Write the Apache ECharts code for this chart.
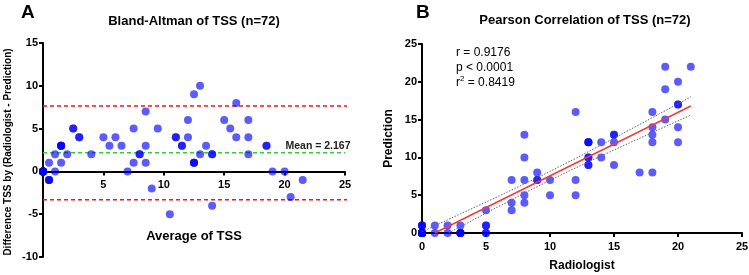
<!DOCTYPE html>
<html>
<head>
<meta charset="utf-8">
<script src="https://cdn.jsdelivr.net/npm/echarts@6/dist/echarts.min.js"></script>
<style>
  html, body { margin: 0; padding: 0; background: #fff; }
  #chart { width: 749px; height: 275px; }
</style>
</head>
<body>
<div id="chart"></div>
<script>
// TSS per case (duplicates = overlapping darker dots)
const radiologist = [0, 0, 1, 1, 2, 2, 3, 3, 5, 5, 5, 7, 7, 8, 8, 7, 8, 10, 9, 9, 10, 12, 8, 12,
  8, 13, 13, 15, 14, 17, 18, 13, 14, 15, 15, 12, 18, 18, 20, 18, 20, 19, 18, 20, 19, 20, 19, 21,
  0, 0, 0, 0, 0, 0, 0, 0, 0, 0, 0, 0, 3, 3, 3, 5, 5, 9, 13, 13, 13, 13, 15, 20];
const prediction = [0, 1, 0, 1, 0, 1, 0, 1, 0, 1, 3, 3, 4, 4, 5, 7, 7, 5, 7, 8, 7, 5, 10, 7,
  13, 9, 10, 9, 10, 8, 8, 12, 12, 12, 13, 16, 12, 13, 12, 14, 14, 15, 16, 17, 19, 20, 22, 22,
  0, 0, 0, 0, 0, 0, 0, 0, 0, 0, 1, 1, 0, 0, 0, 0, 1, 7, 9, 10, 12, 12, 13, 17];

// Bland-Altman reference lines (from the figure)
const meanDiff = 2.167;
const upperLoA = 7.65;
const lowerLoA = -3.32;
const loaX = [0, 25.6];

// regression fit and its 95% band
const fitX = [1, 21];
const fitY = [0, 16.8];
const bandX = [0, 3, 6, 9, 12, 15, 18, 21];
const bandUpper = [0.16, 2.53, 4.88, 7.3, 9.86, 12.54, 15.26, 18.0];
const bandLower = [-1.84, 0.83, 3.52, 6.14, 8.62, 10.98, 13.3, 15.6];

const ticks = [0, 5, 10, 15, 20, 25];
const statLines = ['r = 0.9176', 'p < 0.0001', 'r{sup|2} = 0.8419'];

const font = 'Liberation Sans, Arial, sans-serif';
const dotColor = 'rgba(0, 0, 250, 0.8)';

const baPoints = radiologist.map((r, i) => [(r + prediction[i]) / 2, r - prediction[i]]);
const corrPoints = radiologist.map((r, i) => [r, prediction[i]]);

function axisBase(extra) {
  return Object.assign({
    type: 'value',
    splitLine: { show: false },
    axisLine: { show: true, onZero: false, lineStyle: { color: '#000', width: 2 } },
    axisTick: { show: true, length: 4, lineStyle: { color: '#000', width: 2 } },
    axisLabel: { color: '#000', fontWeight: 'bold', fontSize: 11, fontFamily: font },
    nameTextStyle: { color: '#000', fontWeight: 'bold', fontFamily: font },
  }, extra);
}

const chart = echarts.init(document.getElementById('chart'));
chart.setOption({
  animation: false,
  backgroundColor: '#fff',
  grid: [
    { left: 43, top: 43, width: 302, height: 214, outerBoundsMode: 'none', containLabel: false },
    { left: 422, top: 44, width: 320, height: 189, outerBoundsMode: 'none', containLabel: false }
  ],
  xAxis: [
    // x axis of panel A sits on the y = 0 line (10 units of 21.4px above the grid bottom)
    axisBase({
      gridIndex: 0, min: ticks[0], max: ticks[5], interval: 5, offset: -85.6,
      axisLabel: { color: '#000', fontWeight: 'bold', fontSize: 11, fontFamily: font, margin: 8,
        formatter: v => (v === 0 ? '' : v) }
    }),
    axisBase({
      gridIndex: 1, min: ticks[0], max: ticks[5], interval: 5,
      axisLabel: { color: '#000', fontWeight: 'bold', fontSize: 11, fontFamily: font, margin: 8 },
      name: 'Radiologist', nameLocation: 'middle', nameGap: 27,
      nameTextStyle: { color: '#000', fontWeight: 'bold', fontSize: 12, fontFamily: font }
    })
  ],
  yAxis: [
    axisBase({
      gridIndex: 0, min: -10, max: 15, interval: 5,
      axisLabel: { color: '#000', fontWeight: 'bold', fontSize: 11, fontFamily: font, margin: 5 }
    }),
    axisBase({
      gridIndex: 1, min: ticks[0], max: ticks[5], interval: 5,
      axisLabel: { color: '#000', fontWeight: 'bold', fontSize: 11, fontFamily: font, margin: 5 },
      name: 'Prediction', nameLocation: 'middle', nameGap: 27,
      nameTextStyle: { color: '#000', fontWeight: 'bold', fontSize: 12, fontFamily: font }
    })
  ],
  series: [
    {
      type: 'line', xAxisIndex: 0, yAxisIndex: 0, clip: false, symbol: 'none', z: 1,
      data: loaX.map(x => [x, upperLoA]),
      lineStyle: { color: '#f01818', width: 1.5, type: [4, 3] }
    },
    {
      type: 'line', xAxisIndex: 0, yAxisIndex: 0, clip: false, symbol: 'none', z: 1,
      data: loaX.map(x => [x, lowerLoA]),
      lineStyle: { color: '#f01818', width: 1.5, type: [4, 3] }
    },
    {
      type: 'line', xAxisIndex: 0, yAxisIndex: 0, clip: false, symbol: 'none', z: 1,
      data: [[loaX[0], meanDiff], [25, meanDiff]],
      lineStyle: { color: '#2fd02f', width: 1.5, type: [4, 3] }
    },
    {
      type: 'scatter', xAxisIndex: 0, yAxisIndex: 0, symbolSize: 8, z: 3,
      itemStyle: { color: dotColor },
      data: baPoints
    },
    {
      type: 'scatter', xAxisIndex: 1, yAxisIndex: 1, symbolSize: 8, z: 2,
      itemStyle: { color: dotColor },
      data: corrPoints
    },
    {
      type: 'line', xAxisIndex: 1, yAxisIndex: 1, symbol: 'none', z: 4,
      data: bandX.map((x, i) => [x, bandUpper[i]]),
      lineStyle: { color: '#666', width: 1, type: [1.5, 1.5] }
    },
    {
      type: 'line', xAxisIndex: 1, yAxisIndex: 1, symbol: 'none', z: 4,
      data: bandX.map((x, i) => [x, bandLower[i]]),
      lineStyle: { color: '#666', width: 1, type: [1.5, 1.5] }
    },
    {
      type: 'line', xAxisIndex: 1, yAxisIndex: 1, symbol: 'none', z: 5,
      data: fitX.map((x, i) => [x, fitY[i]]),
      lineStyle: { color: '#f43a3a', width: 1.5 }
    }
  ],
  graphic: [
    { type: 'text', left: 21, top: 3, style: { text: 'A', font: 'bold 19px ' + font, fill: '#000' } },
    { type: 'text', left: 416, top: 3, style: { text: 'B', font: 'bold 19px ' + font, fill: '#000' } },
    { type: 'text', x: 194, y: 21, style: { text: 'Bland-Altman of TSS (n=72)', font: 'bold 13px ' + font,
      fill: '#000', align: 'center', verticalAlign: 'middle' } },
    { type: 'text', x: 585, y: 20, style: { text: 'Pearson Correlation of TSS (n=72)', font: 'bold 13px ' + font,
      fill: '#000', align: 'center', verticalAlign: 'middle' } },
    { type: 'text', x: 194, y: 236, style: { text: 'Average of TSS', font: 'bold 13px ' + font,
      fill: '#000', align: 'center', verticalAlign: 'middle' } },
    { type: 'text', x: 8, y: 152, rotation: Math.PI / 2,
      style: { text: 'Difference TSS by (Radiologist - Prediction)', font: 'bold 10px ' + font,
        fill: '#000', align: 'center', verticalAlign: 'middle' } },
    { type: 'text', x: 318, y: 146, style: { text: 'Mean = 2.167', font: 'bold 10.5px ' + font,
      fill: '#222', align: 'center', verticalAlign: 'middle' } },
    {
      type: 'text', left: 456, top: 45,
      style: {
        text: statLines.join('\n'), fill: '#000', align: 'center',
        font: '12px ' + font, lineHeight: 15,
        rich: { sup: { fontSize: 8, verticalAlign: 'top', padding: [0, 0, 6, 0], fontFamily: font } }
      }
    }
  ]
});
</script>
</body>
</html>
